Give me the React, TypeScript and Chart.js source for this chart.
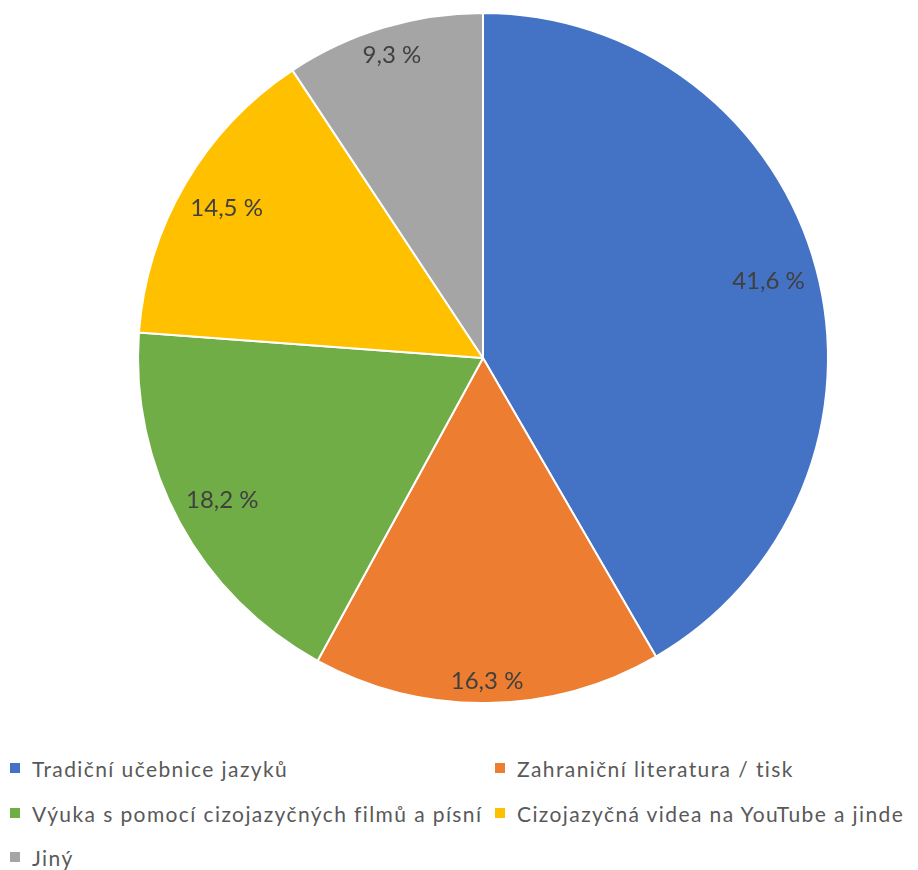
import React, { useEffect, useRef } from "react";
import { Chart, registerables } from "chart.js";

Chart.register(...registerables);

const categories = [
  "Tradiční učebnice jazyků",
  "Zahraniční literatura / tisk",
  "Výuka s pomocí cizojazyčných filmů a písní",
  "Cizojazyčná videa na YouTube a jinde",
  "Jiný",
];
const values = [41.6, 16.3, 18.2, 14.5, 9.3];
const colors = ["#4472C4", "#ED7D31", "#70AD47", "#FFC000", "#A5A5A5"];
const valueLabels = ["41,6 %", "16,3 %", "18,2 %", "14,5 %", "9,3 %"];

const FONT = "Lato, 'Open Sans', sans-serif";

const labelPlugin = {
  id: "insideEndLabels",
  afterDatasetsDraw(chart: any) {
    const ctx = chart.ctx;
    const meta = chart.getDatasetMeta(0);
    ctx.save();
    ctx.font = `24px ${FONT}`;
    ctx.fillStyle = "#404040";
    ctx.textAlign = "center";
    ctx.textBaseline = "middle";
    meta.data.forEach((arc: any, i: number) => {
      const { x, y, startAngle, endAngle, outerRadius } = arc.getProps(
        ["x", "y", "startAngle", "endAngle", "outerRadius"],
        true
      );
      const mid = (startAngle + endAngle) / 2;
      const dx = Math.cos(mid);
      const dy = Math.sin(mid);
      const text = valueLabels[i];
      const w = ctx.measureText(text).width;
      const h = 18;
      const ext = Math.abs(dx) * (w / 2) + Math.abs(dy) * (h / 2);
      const d = outerRadius - 12 - ext;
      ctx.fillText(text, x + dx * d, y + dy * d);
    });
    ctx.restore();
  },
};

export default function App() {
  const ref = useRef<HTMLCanvasElement | null>(null);
  useEffect(() => {
    if (!ref.current) return;
    const chart = new Chart(ref.current, {
      type: "pie",
      data: {
        labels: categories,
        datasets: [
          {
            data: values,
            backgroundColor: colors,
            borderColor: "#ffffff",
            borderWidth: 2,
          },
        ],
      },
      options: {
        animation: false,
        responsive: false,
        radius: 345,
        layout: { padding: { left: 48, right: 0, top: 0, bottom: 14 } },
        plugins: {
          legend: { display: false },
          tooltip: { enabled: false },
        },
      } as any,
      plugins: [labelPlugin],
    });
    return () => chart.destroy();
  }, []);

  const legendRows = [
    [0, 1],
    [2, 3],
    [4],
  ];
  const rowY = [768, 813, 857];
  const colX = [10, 495];

  return (
    <div
      style={{
        position: "absolute",
        left: 0,
        top: 0,
        width: 918,
        height: 870,
        background: "#ffffff",
        overflow: "hidden",
        fontFamily: FONT,
      }}
    >
      <canvas ref={ref} width={918} height={730} style={{ display: "block", width: 918, height: 730 }} />
      {legendRows.map((row, r) =>
        row.map((idx, c) => (
          <div
            key={idx}
            style={{
              position: "absolute",
              left: colX[c],
              top: rowY[r] - 15,
              height: 30,
              display: "flex",
              alignItems: "center",
              whiteSpace: "nowrap",
              fontSize: 21,
              letterSpacing: "1.4px",
              color: "#595959",
            }}
          >
            <span
              style={{
                display: "inline-block",
                width: 10,
                height: 10,
                background: colors[idx],
                marginRight: 12,
              }}
            />
            <span>{categories[idx]}</span>
          </div>
        ))
      )}
    </div>
  );
}
